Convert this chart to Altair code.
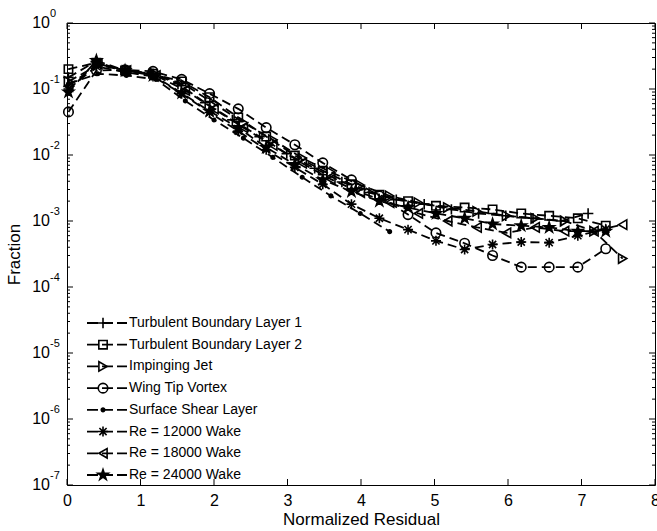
import altair as alt
import pandas as pd

FONT = "Liberation Sans"

series_names = [
    "Turbulent Boundary Layer 1",
    "Turbulent Boundary Layer 2",
    "Impinging Jet",
    "Wing Tip Vortex",
    "Surface Shear Layer",
    "Re = 12000 Wake",
    "Re = 18000 Wake",
    "Re = 24000 Wake",
]

# residual bin centres used by the different data sets
bins_a = [0.02, 0.40, 0.79, 1.17, 1.56, 1.94, 2.33, 2.71, 3.10, 3.48,
          3.87, 4.25, 4.64, 5.02, 5.41, 5.79, 6.18, 6.56, 6.95, 7.33]
bins_b = [0.02, 0.39, 0.76, 1.14, 1.51, 1.88, 2.25, 2.62, 2.99, 3.37,
          3.74, 4.11, 4.48, 4.86, 5.23, 5.60, 5.97, 6.34, 6.72, 7.09]
bins_c = [0.02, 0.42, 0.81, 1.21, 1.61, 2.00, 2.40, 2.80, 3.20, 3.59,
          3.99, 4.39, 4.78, 5.18, 5.58, 5.98, 6.37, 6.77, 7.17, 7.56]

tbl1 = [0.15, 0.26, 0.19, 0.175, 0.12, 0.062, 0.034, 0.019, 0.0105, 0.0063,
        0.0039, 0.0027, 0.0021, 0.0018, 0.0015, 0.0013, 0.0012, 0.0011, 0.001, 0.0013]
tbl2 = [0.20, 0.25, 0.19, 0.17, 0.13, 0.075, 0.037, 0.019, 0.0098, 0.0058,
        0.0036, 0.0025, 0.002, 0.0017, 0.0016, 0.0015, 0.0013, 0.0012, 0.0011, 0.00085]
jet = [0.13, 0.23, 0.19, 0.165, 0.115, 0.06, 0.031, 0.017, 0.009, 0.0055,
       0.0035, 0.0024, 0.0019, 0.0016, 0.0014, 0.0012, 0.0011, 0.001, 0.0007, 0.00027]
vortex = [0.045, 0.19, 0.195, 0.185, 0.14, 0.085, 0.05, 0.026, 0.0143, 0.0076,
          0.0042, 0.0024, 0.00125, 0.00066, 0.00046, 0.0003, 0.0002, 0.0002, 0.0002, 0.00038]
shear = [0.12, 0.17, 0.16, 0.14, 0.066, 0.034, 0.018, 0.0092, 0.0046, 0.0024,
         0.0013, 0.00069]
wake12 = [0.10, 0.22, 0.18, 0.155, 0.085, 0.044, 0.023, 0.012, 0.0065, 0.0036,
          0.0018, 0.0011, 0.00074, 0.0005, 0.00037, 0.00044, 0.00048, 0.00047, 0.0006, 0.00075]
wake18 = [0.11, 0.24, 0.19, 0.16, 0.095, 0.05, 0.026, 0.014, 0.0075, 0.0043,
          0.0027, 0.0019, 0.0013, 0.001, 0.0008, 0.00066, 0.0008, 0.0007, 0.0007, 0.00088]
wake24 = [0.09, 0.27, 0.19, 0.16, 0.087, 0.046, 0.026, 0.013, 0.0072, 0.0042,
          0.0028, 0.002, 0.0016, 0.0013, 0.0011, 0.0009, 0.00085, 0.0008, 0.0007, 0.0007]

x_sets = [bins_b, bins_a, bins_c, bins_a, bins_c, bins_a, bins_c, bins_a]
y_sets = [tbl1, tbl2, jet, vortex, shear, wake12, wake18, wake24]

# marker styles (MATLAB-like: +, s, >, o, ., *, <, p)
PLUS = "M-1,0L1,0M0,-1L0,1"
ASTER = "M-1,0L1,0M0,-1L0,1M-0.72,-0.72L0.72,0.72M-0.72,0.72L0.72,-0.72"
STAR = ("M0,-1L0.2245,-0.309L0.951,-0.309L0.363,0.118L0.588,0.809L0,0.382"
        "L-0.588,0.809L-0.363,0.118L-0.951,-0.309L-0.2245,-0.309Z")
marker_shapes = [PLUS, "square", "triangle-right", "circle", "circle", ASTER, "triangle-left", STAR]
marker_sizes = [110, 70, 90, 90, 12, 100, 90, 120]
marker_fills = ["transparent", "transparent", "transparent", "transparent",
                "black", "transparent", "transparent", "black"]

x_ticks = [0, 1, 2, 3, 4, 5, 6, 7, 8]
decades = [-7, -6, -5, -4, -3, -2, -1, 0]
minor_mult = [2, 3, 4, 5, 6, 7, 8, 9]

rows = []
for name, xs, ys in zip(series_names, x_sets, y_sets):
    for xv, yv in zip(xs, ys):
        rows.append({"series": name, "residual": xv, "fraction": yv})
df = pd.DataFrame(rows)

major_y = pd.DataFrame({"v": [10.0 ** e for e in decades],
                        "exp": [str(e) for e in decades]})
minor_y = pd.DataFrame({"v": [m * 10.0 ** e for e in decades[:-1] for m in minor_mult]})
xt = pd.DataFrame({"t": x_ticks})
legend_df = pd.DataFrame({"row": list(range(len(series_names))), "series": series_names})

W, H = 588, 462
LINE_W = 1.8
MARK_W = 1.6

xscale = alt.Scale(domain=[0, 8], nice=False, zero=False)
yscale = alt.Scale(type="log", domain=[1e-7, 1], nice=False)
xaxis = alt.Axis(title="Normalized Residual", values=x_ticks, format="d", ticks=False,
                 domain=False, grid=False, labelFontSize=16, labelPadding=7,
                 labelFlush=False, labelOverlap=False,
                 labelFont=FONT, labelColor="black", titleFont=FONT, titleFontSize=17,
                 titleFontWeight="normal", titleColor="black", titlePadding=3)
yaxis = alt.Axis(title="Fraction", labels=False, ticks=False, domain=False, grid=False,
                 titleFont=FONT, titleFontSize=17, titleFontWeight="normal",
                 titleColor="black", titlePadding=44)

shape_scale = alt.Scale(domain=series_names, range=marker_shapes)
size_scale = alt.Scale(type="ordinal", domain=series_names, range=marker_sizes)
fill_scale = alt.Scale(domain=series_names, range=marker_fills)

base = alt.Chart(df).encode(
    x=alt.X("residual:Q", scale=xscale, axis=xaxis),
    y=alt.Y("fraction:Q", scale=yscale, axis=yaxis),
)

lines = base.mark_line(color="black", strokeWidth=LINE_W, strokeDash=[9, 5]).encode(
    detail="series:N"
)
points = base.mark_point(filled=True, stroke="black", strokeWidth=MARK_W, opacity=1).encode(
    shape=alt.Shape("series:N", scale=shape_scale, legend=None),
    size=alt.Size("series:N", scale=size_scale, legend=None),
    fill=alt.Fill("series:N", scale=fill_scale, legend=None),
)

# inward-pointing ticks on all four sides
xt_enc = alt.X("t:Q", scale=xscale, axis=xaxis)
tick_bottom = alt.Chart(xt).mark_rule(color="black", strokeWidth=1).encode(
    x=xt_enc, y=alt.value(H), y2=alt.value(H - 6))
tick_top = alt.Chart(xt).mark_rule(color="black", strokeWidth=1).encode(
    x=xt_enc, y=alt.value(0), y2=alt.value(6))

ymaj_enc = alt.Y("v:Q", scale=yscale, axis=yaxis)
ytick_left = alt.Chart(major_y).mark_rule(color="black", strokeWidth=1).encode(
    y=ymaj_enc, x=alt.value(0), x2=alt.value(6))
ytick_right = alt.Chart(major_y).mark_rule(color="black", strokeWidth=1).encode(
    y=ymaj_enc, x=alt.value(W), x2=alt.value(W - 6))
ymin_left = alt.Chart(minor_y).mark_rule(color="black", strokeWidth=1).encode(
    y=ymaj_enc, x=alt.value(0), x2=alt.value(3))
ymin_right = alt.Chart(minor_y).mark_rule(color="black", strokeWidth=1).encode(
    y=ymaj_enc, x=alt.value(W), x2=alt.value(W - 3))

# y tick labels as 10 with a raised exponent
ylab_base = alt.Chart(major_y).mark_text(
    align="right", baseline="middle", fontSize=16, font=FONT, color="black"
).encode(y=ymaj_enc, x=alt.value(-17), text=alt.value("10"))
ylab_exp = alt.Chart(major_y).mark_text(
    align="left", baseline="middle", fontSize=11, font=FONT, color="black", dy=-9
).encode(y=ymaj_enc, x=alt.value(-17), text="exp:N")

plot_group = alt.layer(lines, points, tick_bottom, tick_top, ytick_left, ytick_right,
                       ymin_left, ymin_right, ylab_base, ylab_exp)

# legend drawn inside the axes, lower left
leg_y = alt.Y("row:Q", scale=alt.Scale(domain=[0, 7], range=[300, 452]), axis=None)
leg_lines = alt.Chart(legend_df).mark_rule(color="black", strokeWidth=LINE_W,
                                            strokeDash=[11, 4]).encode(
    y=leg_y, x=alt.value(20), x2=alt.value(60))
leg_points = alt.Chart(legend_df).mark_point(filled=True, stroke="black",
                                              strokeWidth=MARK_W, opacity=1).encode(
    y=leg_y, x=alt.value(36),
    shape=alt.Shape("series:N", scale=shape_scale, legend=None),
    size=alt.Size("series:N", scale=size_scale, legend=None),
    fill=alt.Fill("series:N", scale=fill_scale, legend=None),
)
leg_text = alt.Chart(legend_df).mark_text(align="left", baseline="middle", fontSize=14,
                                           font=FONT, color="black").encode(
    y=leg_y, x=alt.value(62), text="series:N")
legend_group = alt.layer(leg_lines, leg_points, leg_text)

chart = alt.layer(plot_group, legend_group).resolve_scale(y="independent").properties(
    width=W, height=H,
    autosize=alt.AutoSizeParams(type="none"),
    padding={"left": 67, "top": 23, "right": 2, "bottom": 46},
    background="white",
).configure_view(stroke="black", strokeWidth=1).configure_axis(grid=False)

chart.save("out.html", embed_options={"renderer": "svg", "actions": False})
